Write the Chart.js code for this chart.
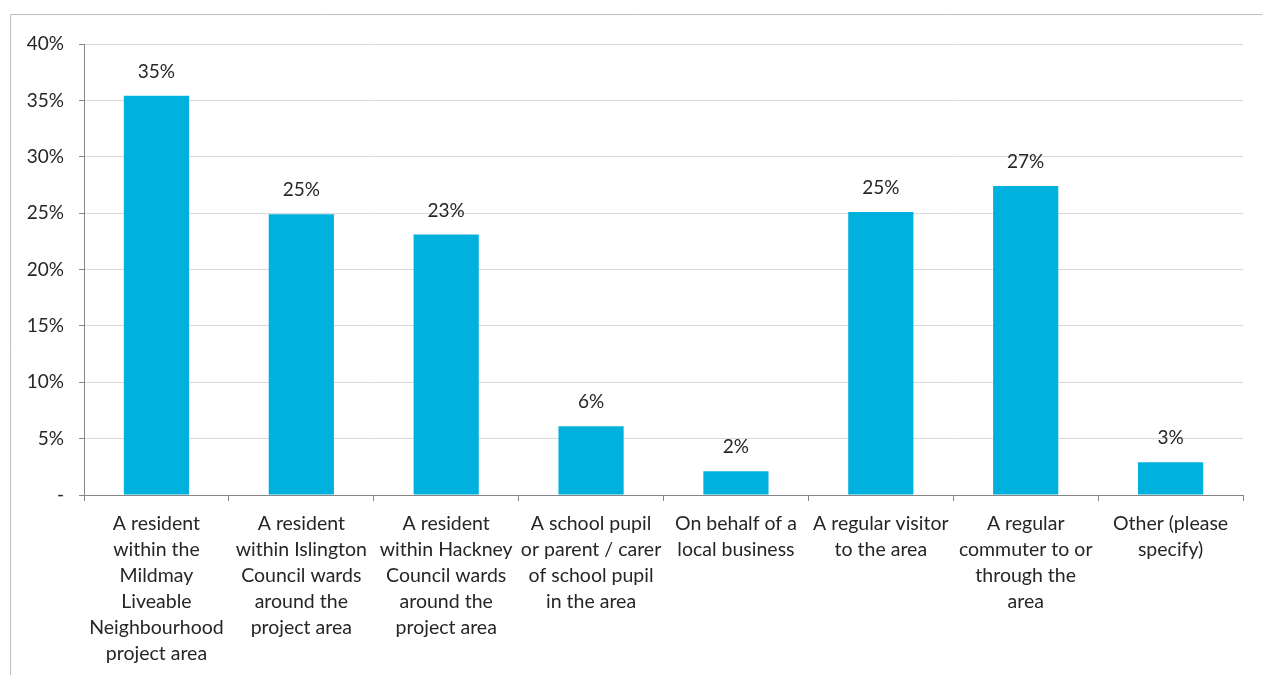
<!DOCTYPE html>
<html><head><meta charset="utf-8">
<script src="https://cdn.jsdelivr.net/npm/chart.js@4/dist/chart.umd.min.js"></script>
<style>html,body{margin:0;padding:0;background:#fff;}#wrap{width:1262px;height:675px;position:relative;}</style>
</head><body><div id="wrap"><canvas id="c" width="1262" height="675"></canvas></div>
<script>
const categories = [
  ["A resident","within the","Mildmay","Liveable","Neighbourhood","project area"],
  ["A resident","within Islington","Council wards","around the","project area"],
  ["A resident","within Hackney","Council wards","around the","project area"],
  ["A school pupil","or parent / carer","of school pupil","in the area"],
  ["On behalf of a","local business"],
  ["A regular visitor","to the area"],
  ["A regular","commuter to or","through the","area"],
  ["Other (please","specify)"]
];
const values = [35.4, 24.9, 23.1, 6.1, 2.1, 25.1, 27.4, 2.9];
const yTicks = [0,5,10,15,20,25,30,35,40];

const FONT = "Lato, 'Open Sans', sans-serif";
const frame = {
  id:'frame',
  beforeDraw(chart){
    const ctx = chart.ctx;
    ctx.save();
    ctx.fillStyle='#fff';ctx.fillRect(0,0,chart.width,chart.height);
    ctx.strokeStyle='#BFBFBF';ctx.lineWidth=1;
    ctx.beginPath();ctx.moveTo(10.5,675);ctx.lineTo(10.5,14.5);ctx.lineTo(1262,14.5);ctx.stroke();
    ctx.restore();
  }
};
const dataLabels = {
  id:'dataLabels',
  afterDatasetsDraw(chart){
    const ctx = chart.ctx;
    const meta = chart.getDatasetMeta(0);
    ctx.save();
    ctx.fillStyle='#262626';
    ctx.font='19px '+FONT;
    ctx.textAlign='center';ctx.textBaseline='middle';
    meta.data.forEach((bar,i)=>{
      ctx.fillText(Math.round(values[i])+'%', bar.x, bar.y-24);
    });
    ctx.restore();
  }
};
new Chart(document.getElementById('c'),{
  type:'bar',
  data:{labels:categories,datasets:[{data:values,backgroundColor:'#00B0DD',borderWidth:0,categoryPercentage:1,barPercentage:0.45}]},
  options:{
    responsive:false,animation:false,
    layout:{padding:{top:44,right:19,left:0,bottom:0}},
    plugins:{legend:{display:false},tooltip:{enabled:false}},
    scales:{
      x:{
        grid:{drawOnChartArea:false,drawTicks:true,tickLength:6,color:'#868686',offset:true},
        border:{color:'#868686'},
        ticks:{color:'#262626',font:{size:19.5,family:FONT,lineHeight:'26px'},padding:10,maxRotation:0,autoSkip:false},
        afterFit(s){s.height=180;}
      },
      y:{
        min:0,max:40,
        grid:{color:'#D9D9D9',tickLength:5,tickColor:'#868686'},
        border:{color:'#868686'},
        afterBuildTicks(s){s.ticks=yTicks.map(v=>({value:v}));},
        ticks:{color:'#262626',font:{size:19,family:FONT},padding:15,callback:v=>v===0?'-':v+'%'},
        afterFit(s){s.width=84;}
      }
    }
  },
  plugins:[frame,dataLabels]
});
</script></body></html>
